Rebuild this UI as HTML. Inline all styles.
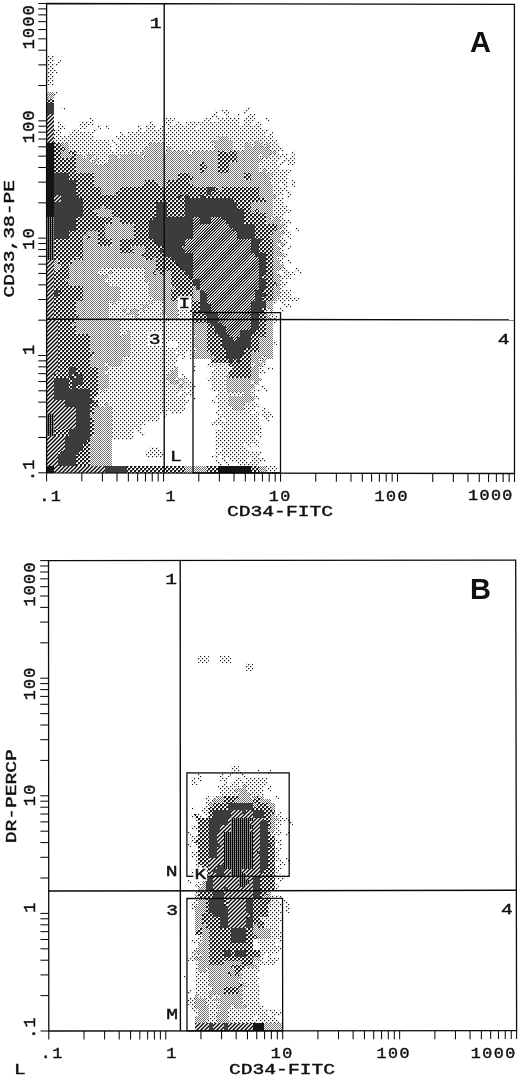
<!DOCTYPE html>
<html><head><meta charset="utf-8"><title>Figure</title><style>html,body{margin:0;padding:0;background:#fff}svg{display:block}</style></head><body>
<svg width="520" height="1076" viewBox="0 0 520 1076">
<defs><pattern id="p1" patternUnits="userSpaceOnUse" width="4" height="4" shape-rendering="crispEdges"><rect width="4" height="4" fill="#fff"/><path d="M0 0h1v1h-1zM2 2h1v1h-1z" fill="#1a1a1a"/><path d="M1 0h1v1h-1zM0 1h1v1h-1zM3 2h1v1h-1zM2 3h1v1h-1z" fill="#cccccc"/></pattern><pattern id="p2" patternUnits="userSpaceOnUse" width="2" height="2" shape-rendering="crispEdges"><rect width="2" height="2" fill="#fff"/><path d="M0 0h1v1h-1zM1 1h1v1h-1z" fill="#737373"/></pattern><pattern id="p3" patternUnits="userSpaceOnUse" width="4" height="4" shape-rendering="crispEdges"><rect width="4" height="4" fill="#fff"/><path d="M0 0h2v1h-2zM0 1h2v1h-2zM2 2h2v1h-2zM2 3h2v1h-2z" fill="#1a1a1a"/><path d="M2 0h1v1h-1zM0 2h1v1h-1z" fill="#999999"/></pattern><pattern id="p5" patternUnits="userSpaceOnUse" width="20" height="20" shape-rendering="crispEdges"><rect width="20" height="20" fill="#fff"/><path d="M4 0h1v1h-1zM7 0h1v1h-1zM10 0h1v1h-1zM13 0h1v1h-1zM16 0h1v1h-1zM3 1h1v1h-1zM6 1h1v1h-1zM9 1h1v1h-1zM12 1h1v1h-1zM15 1h1v1h-1zM2 2h1v1h-1zM5 2h1v1h-1zM8 2h1v1h-1zM11 2h1v1h-1zM14 2h1v1h-1zM1 3h1v1h-1zM4 3h1v1h-1zM7 3h1v1h-1zM10 3h1v1h-1zM13 3h1v1h-1zM0 4h1v1h-1zM3 4h1v1h-1zM6 4h1v1h-1zM9 4h1v1h-1zM12 4h1v1h-1zM2 5h1v1h-1zM5 5h1v1h-1zM8 5h1v1h-1zM11 5h1v1h-1zM19 5h1v1h-1zM1 6h1v1h-1zM4 6h1v1h-1zM7 6h1v1h-1zM10 6h1v1h-1zM18 6h1v1h-1zM0 7h1v1h-1zM3 7h1v1h-1zM6 7h1v1h-1zM9 7h1v1h-1zM17 7h1v1h-1zM2 8h1v1h-1zM5 8h1v1h-1zM8 8h1v1h-1zM16 8h1v1h-1zM19 8h1v1h-1zM1 9h1v1h-1zM4 9h1v1h-1zM7 9h1v1h-1zM15 9h1v1h-1zM18 9h1v1h-1zM0 10h1v1h-1zM3 10h1v1h-1zM6 10h1v1h-1zM14 10h1v1h-1zM17 10h1v1h-1zM2 11h1v1h-1zM5 11h1v1h-1zM13 11h1v1h-1zM16 11h1v1h-1zM19 11h1v1h-1zM1 12h1v1h-1zM4 12h1v1h-1zM12 12h1v1h-1zM15 12h1v1h-1zM18 12h1v1h-1zM0 13h1v1h-1zM3 13h1v1h-1zM11 13h1v1h-1zM14 13h1v1h-1zM17 13h1v1h-1zM2 14h1v1h-1zM10 14h1v1h-1zM13 14h1v1h-1zM16 14h1v1h-1zM19 14h1v1h-1zM1 15h1v1h-1zM9 15h1v1h-1zM12 15h1v1h-1zM15 15h1v1h-1zM18 15h1v1h-1zM0 16h1v1h-1zM8 16h1v1h-1zM11 16h1v1h-1zM14 16h1v1h-1zM17 16h1v1h-1zM7 17h1v1h-1zM10 17h1v1h-1zM13 17h1v1h-1zM16 17h1v1h-1zM19 17h1v1h-1zM6 18h1v1h-1zM9 18h1v1h-1zM12 18h1v1h-1zM15 18h1v1h-1zM18 18h1v1h-1zM5 19h1v1h-1zM8 19h1v1h-1zM11 19h1v1h-1zM14 19h1v1h-1zM17 19h1v1h-1z" fill="#000000"/><path d="M1 0h1v1h-1zM19 0h1v1h-1zM0 1h1v1h-1zM18 1h1v1h-1zM17 2h1v1h-1zM19 2h1v1h-1zM16 3h1v1h-1zM18 3h1v1h-1zM15 4h1v1h-1zM17 4h1v1h-1zM14 5h1v1h-1zM16 5h1v1h-1zM13 6h1v1h-1zM15 6h1v1h-1zM12 7h1v1h-1zM14 7h1v1h-1zM11 8h1v1h-1zM13 8h1v1h-1zM10 9h1v1h-1zM12 9h1v1h-1zM9 10h1v1h-1zM11 10h1v1h-1zM8 11h1v1h-1zM10 11h1v1h-1zM7 12h1v1h-1zM9 12h1v1h-1zM6 13h1v1h-1zM8 13h1v1h-1zM5 14h1v1h-1zM7 14h1v1h-1zM4 15h1v1h-1zM6 15h1v1h-1zM3 16h1v1h-1zM5 16h1v1h-1zM2 17h1v1h-1zM4 17h1v1h-1zM1 18h1v1h-1zM3 18h1v1h-1zM0 19h1v1h-1zM2 19h1v1h-1z" fill="#1a1a1a"/><path d="M2 0h1v1h-1zM18 0h1v1h-1zM1 1h1v1h-1zM17 1h1v1h-1zM0 2h1v1h-1zM16 2h1v1h-1zM15 3h1v1h-1zM19 3h1v1h-1zM14 4h1v1h-1zM18 4h1v1h-1zM13 5h1v1h-1zM17 5h1v1h-1zM12 6h1v1h-1zM16 6h1v1h-1zM11 7h1v1h-1zM15 7h1v1h-1zM10 8h1v1h-1zM14 8h1v1h-1zM9 9h1v1h-1zM13 9h1v1h-1zM8 10h1v1h-1zM12 10h1v1h-1zM7 11h1v1h-1zM11 11h1v1h-1zM6 12h1v1h-1zM10 12h1v1h-1zM5 13h1v1h-1zM9 13h1v1h-1zM4 14h1v1h-1zM8 14h1v1h-1zM3 15h1v1h-1zM7 15h1v1h-1zM2 16h1v1h-1zM6 16h1v1h-1zM1 17h1v1h-1zM5 17h1v1h-1zM0 18h1v1h-1zM4 18h1v1h-1zM3 19h1v1h-1zM19 19h1v1h-1z" fill="#4c4c4c"/><path d="M5 0h1v1h-1zM15 0h1v1h-1zM4 1h1v1h-1zM14 1h1v1h-1zM3 2h1v1h-1zM13 2h1v1h-1zM2 3h1v1h-1zM12 3h1v1h-1zM1 4h1v1h-1zM11 4h1v1h-1zM0 5h1v1h-1zM10 5h1v1h-1zM9 6h1v1h-1zM19 6h1v1h-1zM8 7h1v1h-1zM18 7h1v1h-1zM7 8h1v1h-1zM17 8h1v1h-1zM6 9h1v1h-1zM16 9h1v1h-1zM5 10h1v1h-1zM15 10h1v1h-1zM4 11h1v1h-1zM14 11h1v1h-1zM3 12h1v1h-1zM13 12h1v1h-1zM2 13h1v1h-1zM12 13h1v1h-1zM1 14h1v1h-1zM11 14h1v1h-1zM0 15h1v1h-1zM10 15h1v1h-1zM9 16h1v1h-1zM19 16h1v1h-1zM8 17h1v1h-1zM18 17h1v1h-1zM7 18h1v1h-1zM17 18h1v1h-1zM6 19h1v1h-1zM16 19h1v1h-1z" fill="#808080"/><path d="M8 0h1v1h-1zM12 0h1v1h-1zM7 1h1v1h-1zM11 1h1v1h-1zM6 2h1v1h-1zM10 2h1v1h-1zM5 3h1v1h-1zM9 3h1v1h-1zM4 4h1v1h-1zM8 4h1v1h-1zM3 5h1v1h-1zM7 5h1v1h-1zM2 6h1v1h-1zM6 6h1v1h-1zM1 7h1v1h-1zM5 7h1v1h-1zM0 8h1v1h-1zM4 8h1v1h-1zM3 9h1v1h-1zM19 9h1v1h-1zM2 10h1v1h-1zM18 10h1v1h-1zM1 11h1v1h-1zM17 11h1v1h-1zM0 12h1v1h-1zM16 12h1v1h-1zM15 13h1v1h-1zM19 13h1v1h-1zM14 14h1v1h-1zM18 14h1v1h-1zM13 15h1v1h-1zM17 15h1v1h-1zM12 16h1v1h-1zM16 16h1v1h-1zM11 17h1v1h-1zM15 17h1v1h-1zM10 18h1v1h-1zM14 18h1v1h-1zM9 19h1v1h-1zM13 19h1v1h-1z" fill="#b2b2b2"/><path d="M9 0h1v1h-1zM11 0h1v1h-1zM8 1h1v1h-1zM10 1h1v1h-1zM7 2h1v1h-1zM9 2h1v1h-1zM6 3h1v1h-1zM8 3h1v1h-1zM5 4h1v1h-1zM7 4h1v1h-1zM4 5h1v1h-1zM6 5h1v1h-1zM3 6h1v1h-1zM5 6h1v1h-1zM2 7h1v1h-1zM4 7h1v1h-1zM1 8h1v1h-1zM3 8h1v1h-1zM0 9h1v1h-1zM2 9h1v1h-1zM1 10h1v1h-1zM19 10h1v1h-1zM0 11h1v1h-1zM18 11h1v1h-1zM17 12h1v1h-1zM19 12h1v1h-1zM16 13h1v1h-1zM18 13h1v1h-1zM15 14h1v1h-1zM17 14h1v1h-1zM14 15h1v1h-1zM16 15h1v1h-1zM13 16h1v1h-1zM15 16h1v1h-1zM12 17h1v1h-1zM14 17h1v1h-1zM11 18h1v1h-1zM13 18h1v1h-1zM10 19h1v1h-1zM12 19h1v1h-1z" fill="#e6e6e6"/></pattern><pattern id="p6" patternUnits="userSpaceOnUse" width="2" height="2" shape-rendering="crispEdges"><rect width="2" height="2" fill="#fff"/><path d="M0 0h1v1h-1zM0 1h1v1h-1z" fill="#000000"/><path d="M1 0h1v1h-1z" fill="#666666"/><path d="M1 1h1v1h-1z" fill="#999999"/></pattern><pattern id="p7" patternUnits="userSpaceOnUse" width="4" height="4" shape-rendering="crispEdges"><rect width="4" height="4" fill="#fff"/><path d="M2 0h1v1h-1zM1 1h1v1h-1zM0 2h1v1h-1zM3 3h1v1h-1z" fill="#000000"/><path d="M1 0h1v1h-1zM3 0h1v1h-1zM0 1h1v1h-1zM2 1h1v1h-1zM1 2h1v1h-1zM3 2h1v1h-1zM0 3h1v1h-1zM2 3h1v1h-1z" fill="#808080"/></pattern></defs>
<g shape-rendering="crispEdges"><path d="M47 55h7v4h-7zM47 59h7v4h-7zM58 59h3v4h-3zM47 63h11v3h-11zM47 66h7v4h-7zM47 70h11v4h-11zM47 74h7v3h-7zM47 77h7v4h-7zM47 81h7v4h-7zM54 92h4v4h-4zM61 107h4v3h-4zM248 107h3v3h-3zM215 110h3v4h-3zM222 110h7v4h-7zM244 110h4v4h-4zM211 114h7v4h-7zM226 114h3v4h-3zM237 114h3v4h-3zM248 114h7v4h-7zM90 118h4v3h-4zM164 118h11v3h-11zM204 118h7v3h-7zM218 118h22v3h-22zM244 118h11v3h-11zM266 118h4v3h-4zM58 121h3v4h-3zM79 121h15v4h-15zM149 121h4v4h-4zM164 121h7v4h-7zM175 121h7v4h-7zM185 121h55v4h-55zM244 121h7v4h-7zM255 121h7v4h-7zM58 125h7v4h-7zM79 125h8v4h-8zM98 125h3v4h-3zM105 125h4v4h-4zM138 125h4v4h-4zM145 125h11v4h-11zM160 125h4v4h-4zM167 125h29v4h-29zM200 125h62v4h-62zM54 129h7v3h-7zM72 129h7v3h-7zM87 129h3v3h-3zM94 129h4v3h-4zM138 129h4v3h-4zM145 129h19v3h-19zM167 129h103v3h-103zM54 132h7v4h-7zM69 132h25v4h-25zM120 132h3v4h-3zM127 132h139v4h-139zM270 132h3v4h-3zM54 136h40v4h-40zM116 136h102v4h-102zM229 136h44v4h-44zM54 140h55v3h-55zM112 140h4v3h-4zM120 140h91v3h-91zM233 140h22v3h-22zM259 140h18v3h-18zM69 143h43v4h-43zM116 143h33v4h-33zM164 143h51v4h-51zM233 143h11v4h-11zM251 143h4v4h-4zM262 143h4v4h-4zM270 143h10v4h-10zM69 147h43v4h-43zM116 147h29v4h-29zM164 147h3v4h-3zM171 147h44v4h-44zM233 147h11v4h-11zM270 147h14v4h-14zM76 151h55v3h-55zM134 151h8v3h-8zM164 151h3v3h-3zM189 151h4v3h-4zM277 151h3v3h-3zM291 151h4v3h-4zM83 154h4v4h-4zM94 154h15v4h-15zM116 154h4v4h-4zM142 154h3v4h-3zM259 154h3v4h-3zM270 154h18v4h-18zM291 154h4v4h-4zM90 158h4v4h-4zM98 158h11v4h-11zM262 158h18v4h-18zM284 158h11v4h-11zM94 162h11v3h-11zM259 162h18v3h-18zM280 162h4v3h-4zM288 162h7v3h-7zM259 165h21v4h-21zM259 169h3v4h-3zM266 169h25v4h-25zM273 173h15v3h-15zM270 176h18v4h-18zM270 180h18v4h-18zM291 180h4v4h-4zM273 184h7v3h-7zM284 184h4v3h-4zM291 184h4v3h-4zM273 187h15v4h-15zM273 191h11v4h-11zM288 191h3v4h-3zM277 195h3v3h-3zM288 195h3v3h-3zM273 198h11v4h-11zM273 202h11v4h-11zM273 206h15v3h-15zM273 209h18v4h-18zM273 213h11v4h-11zM270 217h3v3h-3zM280 217h4v3h-4zM280 220h11v4h-11zM284 224h4v4h-4zM280 228h8v3h-8zM295 228h4v3h-4zM284 231h7v4h-7zM280 235h4v4h-4zM288 235h3v4h-3zM280 239h8v3h-8zM277 242h3v4h-3zM284 242h4v4h-4zM280 246h4v3h-4zM288 246h3v3h-3zM280 249h4v4h-4zM284 253h4v4h-4zM277 257h7v3h-7zM280 260h4v4h-4zM288 260h3v4h-3zM101 268h44v3h-44zM280 268h8v3h-8zM295 268h4v3h-4zM98 271h11v4h-11zM112 271h33v4h-33zM277 271h3v4h-3zM284 271h11v4h-11zM299 271h3v4h-3zM109 275h36v4h-36zM280 275h11v4h-11zM105 279h40v3h-40zM280 279h4v3h-4zM109 282h40v4h-40zM280 282h8v4h-8zM120 286h29v4h-29zM280 286h4v4h-4zM120 290h29v3h-29zM280 290h11v3h-11zM120 293h29v4h-29zM280 293h11v4h-11zM120 297h33v4h-33zM277 297h22v4h-22zM109 301h3v3h-3zM116 301h33v3h-33zM153 301h11v3h-11zM178 301h4v3h-4zM185 301h4v3h-4zM273 301h4v3h-4zM280 301h4v3h-4zM109 304h33v4h-33zM149 304h15v4h-15zM178 304h11v4h-11zM284 304h7v4h-7zM109 308h14v4h-14zM127 308h4v4h-4zM138 308h4v4h-4zM145 308h19v4h-19zM178 308h11v4h-11zM266 308h4v4h-4zM280 308h4v4h-4zM109 312h18v3h-18zM138 312h22v3h-22zM178 312h15v3h-15zM266 312h4v3h-4zM109 315h25v4h-25zM138 315h29v4h-29zM178 315h15v4h-15zM270 315h7v4h-7zM120 319h44v4h-44zM167 319h26v4h-26zM273 319h4v4h-4zM120 323h73v3h-73zM120 326h73v4h-73zM120 330h7v4h-7zM131 330h62v4h-62zM120 334h3v3h-3zM131 334h65v3h-65zM131 337h62v4h-62zM131 341h36v4h-36zM178 341h15v4h-15zM273 341h4v4h-4zM131 345h36v3h-36zM178 345h15v3h-15zM131 348h65v4h-65zM131 352h44v4h-44zM178 352h7v4h-7zM189 352h4v4h-4zM123 356h55v3h-55zM182 356h3v3h-3zM189 356h4v3h-4zM262 356h4v3h-4zM123 359h55v4h-55zM259 359h3v4h-3zM105 363h4v4h-4zM120 363h55v4h-55zM193 363h3v4h-3zM207 363h22v4h-22zM251 363h4v4h-4zM262 363h4v4h-4zM109 367h66v3h-66zM193 367h3v3h-3zM215 367h18v3h-18zM259 367h3v3h-3zM266 367h7v3h-7zM105 370h66v4h-66zM193 370h3v4h-3zM211 370h18v4h-18zM259 370h7v4h-7zM109 374h58v4h-58zM182 374h3v4h-3zM211 374h15v4h-15zM109 378h58v3h-58zM175 378h3v3h-3zM185 378h4v3h-4zM207 378h19v3h-19zM109 381h62v4h-62zM178 381h4v4h-4zM185 381h8v4h-8zM211 381h15v4h-15zM251 381h4v4h-4zM109 385h69v4h-69zM182 385h14v4h-14zM211 385h15v4h-15zM262 385h4v4h-4zM98 389h3v3h-3zM105 389h80v3h-80zM189 389h4v3h-4zM211 389h15v3h-15zM251 389h11v3h-11zM266 389h4v3h-4zM98 392h80v4h-80zM182 392h11v4h-11zM218 392h26v4h-26zM251 392h4v4h-4zM94 396h91v4h-91zM193 396h3v4h-3zM215 396h14v4h-14zM255 396h4v4h-4zM98 400h91v3h-91zM211 400h4v3h-4zM218 400h11v3h-11zM251 400h4v3h-4zM98 403h7v4h-7zM109 403h76v4h-76zM218 403h11v4h-11zM244 403h15v4h-15zM112 407h73v4h-73zM218 407h15v4h-15zM244 407h11v4h-11zM262 407h4v4h-4zM112 411h55v3h-55zM171 411h11v3h-11zM215 411h3v3h-3zM222 411h29v3h-29zM255 411h4v3h-4zM262 411h8v3h-8zM112 414h48v4h-48zM164 414h3v4h-3zM218 414h41v4h-41zM262 414h11v4h-11zM112 418h48v4h-48zM215 418h7v4h-7zM226 418h33v4h-33zM266 418h4v4h-4zM112 422h33v3h-33zM211 422h48v3h-48zM112 425h30v4h-30zM222 425h40v4h-40zM112 429h22v4h-22zM138 429h4v4h-4zM215 429h47v4h-47zM112 433h19v3h-19zM142 433h3v3h-3zM215 433h44v3h-44zM112 436h22v4h-22zM215 436h40v4h-40zM259 436h3v4h-3zM215 440h44v4h-44zM215 444h29v3h-29zM248 444h3v3h-3zM255 444h4v3h-4zM149 447h11v4h-11zM215 447h3v4h-3zM222 447h26v4h-26zM145 451h19v4h-19zM215 451h47v4h-47zM145 455h19v3h-19zM211 455h7v3h-7zM222 455h37v3h-37zM215 458h3v4h-3zM222 458h4v4h-4zM229 458h19v4h-19zM251 458h15v4h-15zM218 462h4v4h-4zM226 462h3v4h-3zM237 462h22v4h-22zM266 466h11v3h-11zM266 469h11v4h-11z" fill="url(#p1)"/>
<path d="M47 92h7v4h-7zM47 96h7v3h-7zM218 136h11v4h-11zM211 140h22v3h-22zM255 140h4v3h-4zM61 143h8v4h-8zM149 143h15v4h-15zM215 143h18v4h-18zM244 143h7v4h-7zM255 143h7v4h-7zM266 143h4v4h-4zM65 147h4v4h-4zM145 147h19v4h-19zM167 147h4v4h-4zM215 147h18v4h-18zM244 147h26v4h-26zM61 151h8v3h-8zM131 151h3v3h-3zM142 151h22v3h-22zM167 151h22v3h-22zM193 151h25v3h-25zM226 151h3v3h-3zM237 151h40v3h-40zM61 154h11v4h-11zM76 154h7v4h-7zM87 154h7v4h-7zM109 154h7v4h-7zM120 154h22v4h-22zM145 154h73v4h-73zM237 154h22v4h-22zM262 154h8v4h-8zM76 158h14v4h-14zM94 158h4v4h-4zM109 158h109v4h-109zM237 158h25v4h-25zM76 162h18v3h-18zM105 162h95v3h-95zM204 162h14v3h-14zM229 162h30v3h-30zM76 165h124v4h-124zM207 165h11v4h-11zM229 165h30v4h-30zM76 169h124v4h-124zM204 169h14v4h-14zM229 169h30v4h-30zM262 169h4v4h-4zM94 173h84v3h-84zM189 173h55v3h-55zM251 173h22v3h-22zM94 176h84v4h-84zM193 176h51v4h-51zM251 176h19v4h-19zM94 180h51v4h-51zM156 180h11v4h-11zM189 180h81v4h-81zM94 184h48v3h-48zM160 184h7v3h-7zM193 184h80v3h-80zM101 187h19v4h-19zM218 187h4v4h-4zM259 187h14v4h-14zM101 191h15v4h-15zM259 191h14v4h-14zM259 195h18v3h-18zM266 198h7v4h-7zM251 202h22v4h-22zM101 206h4v3h-4zM251 206h22v3h-22zM94 209h18v4h-18zM251 209h4v4h-4zM259 209h14v4h-14zM98 213h14v4h-14zM266 213h7v4h-7zM112 217h8v3h-8zM266 217h4v3h-4zM273 217h7v3h-7zM112 220h8v4h-8zM266 220h14v4h-14zM105 224h29v4h-29zM277 224h7v4h-7zM105 228h29v3h-29zM277 228h3v3h-3zM87 231h11v4h-11zM105 231h29v4h-29zM273 231h11v4h-11zM83 235h4v4h-4zM90 235h8v4h-8zM105 235h29v4h-29zM270 235h10v4h-10zM83 239h15v3h-15zM112 239h8v3h-8zM273 239h7v3h-7zM83 242h15v4h-15zM112 242h8v4h-8zM273 242h4v4h-4zM280 242h4v4h-4zM83 246h37v3h-37zM131 246h14v3h-14zM273 246h7v3h-7zM83 249h37v4h-37zM134 249h11v4h-11zM273 249h7v4h-7zM83 253h59v4h-59zM273 253h11v4h-11zM76 257h3v3h-3zM83 257h62v3h-62zM153 257h3v3h-3zM273 257h4v3h-4zM54 260h4v4h-4zM72 260h84v4h-84zM273 260h7v4h-7zM54 264h7v4h-7zM69 264h87v4h-87zM273 264h11v4h-11zM54 268h4v3h-4zM69 268h32v3h-32zM145 268h11v3h-11zM273 268h7v3h-7zM69 271h29v4h-29zM109 271h3v4h-3zM145 271h8v4h-8zM156 271h4v4h-4zM164 271h7v4h-7zM273 271h4v4h-4zM69 275h40v4h-40zM145 275h26v4h-26zM273 275h7v4h-7zM65 279h40v3h-40zM145 279h26v3h-26zM273 279h7v3h-7zM69 282h40v4h-40zM149 282h22v4h-22zM277 282h3v4h-3zM83 286h37v4h-37zM149 286h26v4h-26zM193 286h3v4h-3zM273 286h7v4h-7zM83 290h37v3h-37zM149 290h22v3h-22zM193 290h7v3h-7zM273 290h7v3h-7zM83 293h37v4h-37zM149 293h22v4h-22zM193 293h7v4h-7zM273 293h7v4h-7zM83 297h37v4h-37zM153 297h18v4h-18zM193 297h7v4h-7zM273 297h4v4h-4zM76 301h33v3h-33zM112 301h4v3h-4zM149 301h4v3h-4zM164 301h14v3h-14zM266 301h7v3h-7zM76 304h33v4h-33zM142 304h7v4h-7zM164 304h14v4h-14zM266 304h7v4h-7zM76 308h33v4h-33zM123 308h4v4h-4zM131 308h7v4h-7zM142 308h3v4h-3zM164 308h14v4h-14zM270 308h3v4h-3zM76 312h33v3h-33zM127 312h11v3h-11zM160 312h18v3h-18zM270 312h3v3h-3zM79 315h30v4h-30zM134 315h4v4h-4zM167 315h11v4h-11zM266 315h4v4h-4zM76 319h44v4h-44zM164 319h3v4h-3zM266 319h7v4h-7zM72 323h48v3h-48zM193 323h14v3h-14zM266 323h7v3h-7zM76 326h44v4h-44zM193 326h14v4h-14zM266 326h7v4h-7zM76 330h44v4h-44zM127 330h4v4h-4zM193 330h14v4h-14zM266 330h7v4h-7zM90 334h30v3h-30zM123 334h8v3h-8zM196 334h11v3h-11zM266 334h7v3h-7zM90 337h41v4h-41zM193 337h14v4h-14zM259 337h14v4h-14zM90 341h41v4h-41zM193 341h14v4h-14zM259 341h14v4h-14zM90 345h41v3h-41zM193 345h14v3h-14zM259 345h14v3h-14zM90 348h41v4h-41zM196 348h11v4h-11zM259 348h14v4h-14zM94 352h37v4h-37zM193 352h18v4h-18zM251 352h22v4h-22zM90 356h33v3h-33zM193 356h22v3h-22zM251 356h11v3h-11zM266 356h7v3h-7zM90 359h33v4h-33zM251 359h8v4h-8zM262 359h4v4h-4zM90 363h15v4h-15zM109 363h11v4h-11zM255 363h7v4h-7zM98 367h11v3h-11zM175 367h3v3h-3zM251 367h8v3h-8zM98 370h7v4h-7zM171 370h7v4h-7zM251 370h8v4h-8zM98 374h11v4h-11zM167 374h11v4h-11zM226 374h3v4h-3zM251 374h8v4h-8zM98 378h11v3h-11zM167 378h8v3h-8zM178 378h7v3h-7zM226 378h36v3h-36zM98 381h11v4h-11zM171 381h7v4h-7zM182 381h3v4h-3zM226 381h25v4h-25zM255 381h4v4h-4zM98 385h11v4h-11zM178 385h4v4h-4zM226 385h29v4h-29zM101 389h4v3h-4zM226 389h25v3h-25zM244 392h7v4h-7zM229 396h26v4h-26zM229 400h22v3h-22zM105 403h4v4h-4zM229 403h15v4h-15zM94 407h18v4h-18zM233 407h11v4h-11zM94 411h18v3h-18zM90 414h22v4h-22zM94 418h18v4h-18zM94 422h18v3h-18zM94 425h18v4h-18zM94 429h18v4h-18zM94 433h18v3h-18zM90 436h22v4h-22zM90 440h22v4h-22zM90 444h22v3h-22zM90 447h22v4h-22zM90 451h22v4h-22zM90 455h22v3h-22zM90 458h22v4h-22zM90 462h22v4h-22zM185 466h22v3h-22zM259 466h7v3h-7zM185 469h22v4h-22zM259 469h7v4h-7z" fill="url(#p2)"/>
<path d="M47 99h7v4h-7zM54 143h7v4h-7zM54 147h11v4h-11zM54 151h7v3h-7zM69 151h7v3h-7zM218 151h8v3h-8zM229 151h8v3h-8zM54 154h7v4h-7zM72 154h4v4h-4zM218 154h19v4h-19zM54 158h22v4h-22zM218 158h19v4h-19zM54 162h22v3h-22zM200 162h4v3h-4zM218 162h11v3h-11zM54 165h22v4h-22zM200 165h7v4h-7zM218 165h11v4h-11zM54 169h22v4h-22zM200 169h4v4h-4zM218 169h11v4h-11zM69 173h25v3h-25zM178 173h11v3h-11zM244 173h7v3h-7zM69 176h25v4h-25zM178 176h15v4h-15zM244 176h7v4h-7zM76 180h18v4h-18zM145 180h11v4h-11zM167 180h22v4h-22zM76 184h18v3h-18zM142 184h18v3h-18zM167 184h26v3h-26zM76 187h25v4h-25zM120 187h87v4h-87zM215 187h3v4h-3zM222 187h37v4h-37zM76 191h25v4h-25zM116 191h91v4h-91zM211 191h48v4h-48zM79 195h99v3h-99zM182 195h3v3h-3zM189 195h11v3h-11zM204 195h55v3h-55zM83 198h102v4h-102zM233 198h33v4h-33zM83 202h73v4h-73zM167 202h18v4h-18zM237 202h14v4h-14zM83 206h18v3h-18zM105 206h51v3h-51zM167 206h18v3h-18zM237 206h14v3h-14zM83 209h11v4h-11zM112 209h44v4h-44zM167 209h18v4h-18zM244 209h7v4h-7zM255 209h4v4h-4zM83 213h15v4h-15zM112 213h44v4h-44zM167 213h18v4h-18zM244 213h22v4h-22zM76 217h36v3h-36zM120 217h33v3h-33zM244 217h22v3h-22zM76 220h36v4h-36zM120 220h29v4h-29zM244 220h22v4h-22zM76 224h29v4h-29zM134 224h15v4h-15zM255 224h22v4h-22zM76 228h29v3h-29zM134 228h15v3h-15zM255 228h22v3h-22zM69 231h18v4h-18zM98 231h7v4h-7zM134 231h15v4h-15zM255 231h18v4h-18zM69 235h14v4h-14zM87 235h3v4h-3zM98 235h7v4h-7zM134 235h15v4h-15zM255 235h15v4h-15zM54 239h29v3h-29zM98 239h14v3h-14zM120 239h33v3h-33zM262 239h11v3h-11zM54 242h29v4h-29zM98 242h14v4h-14zM120 242h36v4h-36zM259 242h14v4h-14zM54 246h29v3h-29zM120 246h11v3h-11zM145 246h19v3h-19zM259 246h14v3h-14zM54 249h29v4h-29zM120 249h14v4h-14zM145 249h15v4h-15zM259 249h14v4h-14zM54 253h29v4h-29zM142 253h22v4h-22zM266 253h7v4h-7zM54 257h22v3h-22zM79 257h4v3h-4zM145 257h8v3h-8zM156 257h15v3h-15zM266 257h7v3h-7zM58 260h14v4h-14zM156 260h19v4h-19zM266 260h7v4h-7zM61 264h8v4h-8zM156 264h22v4h-22zM266 264h7v4h-7zM58 268h11v3h-11zM156 268h26v3h-26zM266 268h7v3h-7zM54 271h15v4h-15zM153 271h3v4h-3zM160 271h4v4h-4zM171 271h14v4h-14zM266 271h7v4h-7zM54 275h15v4h-15zM171 275h18v4h-18zM262 275h11v4h-11zM54 279h11v3h-11zM171 279h22v3h-22zM266 279h7v3h-7zM54 282h15v4h-15zM171 282h22v4h-22zM266 282h11v4h-11zM54 286h29v4h-29zM175 286h18v4h-18zM266 286h7v4h-7zM61 290h22v3h-22zM171 290h22v3h-22zM262 290h11v3h-11zM58 293h25v4h-25zM171 293h22v4h-22zM266 293h7v4h-7zM54 297h29v4h-29zM171 297h22v4h-22zM262 297h11v4h-11zM54 301h22v3h-22zM182 301h3v3h-3zM189 301h11v3h-11zM54 304h22v4h-22zM189 304h11v4h-11zM54 308h22v4h-22zM189 308h11v4h-11zM262 308h4v4h-4zM54 312h22v3h-22zM193 312h11v3h-11zM259 312h7v3h-7zM54 315h25v4h-25zM193 315h14v4h-14zM259 315h7v4h-7zM58 319h18v4h-18zM193 319h14v4h-14zM259 319h7v4h-7zM58 323h14v3h-14zM207 323h4v3h-4zM259 323h7v3h-7zM58 326h18v4h-18zM207 326h8v4h-8zM259 326h7v4h-7zM58 330h18v4h-18zM207 330h8v4h-8zM255 330h11v4h-11zM58 334h32v3h-32zM207 334h11v3h-11zM251 334h15v3h-15zM58 337h32v4h-32zM207 337h15v4h-15zM251 337h8v4h-8zM58 341h32v4h-32zM207 341h15v4h-15zM251 341h8v4h-8zM58 345h32v3h-32zM207 345h15v3h-15zM251 345h8v3h-8zM58 348h32v4h-32zM207 348h19v4h-19zM244 348h15v4h-15zM58 352h36v4h-36zM211 352h15v4h-15zM244 352h7v4h-7zM58 356h32v3h-32zM215 356h11v3h-11zM240 356h11v3h-11zM58 359h32v4h-32zM211 359h18v4h-18zM233 359h4v4h-4zM240 359h11v4h-11zM58 363h32v4h-32zM229 363h22v4h-22zM58 367h11v3h-11zM76 367h22v3h-22zM233 367h18v3h-18zM58 370h11v4h-11zM76 370h22v4h-22zM229 370h22v4h-22zM54 374h15v4h-15zM72 374h4v4h-4zM83 374h15v4h-15zM229 374h22v4h-22zM69 378h3v3h-3zM83 378h15v3h-15zM69 381h3v4h-3zM83 381h15v4h-15zM69 385h3v4h-3zM76 385h22v4h-22zM90 389h8v3h-8zM90 392h8v4h-8zM90 396h4v4h-4zM94 400h4v3h-4zM90 403h8v4h-8zM90 407h4v4h-4zM90 411h4v3h-4zM90 418h4v4h-4zM90 422h4v3h-4zM90 425h4v4h-4zM54 429h15v4h-15zM90 429h4v4h-4zM54 433h15v3h-15zM90 433h4v3h-4zM87 440h3v4h-3zM83 444h7v3h-7zM83 447h7v4h-7zM58 451h3v4h-3zM79 451h11v4h-11zM76 455h14v3h-14zM76 458h14v4h-14zM76 462h14v4h-14zM127 466h58v3h-58zM207 466h11v3h-11zM251 466h8v3h-8zM127 469h58v4h-58zM207 469h11v4h-11zM251 469h8v4h-8z" fill="url(#p3)"/>
<path d="M47 103h7v4h-7zM47 107h7v3h-7zM47 110h7v4h-7zM54 173h15v3h-15zM54 176h15v4h-15zM54 180h22v4h-22zM54 184h22v3h-22zM54 187h22v4h-22zM207 187h8v4h-8zM54 191h22v4h-22zM207 191h4v4h-4zM61 195h18v3h-18zM178 195h4v3h-4zM185 195h4v3h-4zM200 195h4v3h-4zM61 198h22v4h-22zM185 198h48v4h-48zM54 202h29v4h-29zM156 202h11v4h-11zM185 202h52v4h-52zM54 206h29v3h-29zM156 206h11v3h-11zM185 206h52v3h-52zM54 209h29v4h-29zM156 209h11v4h-11zM185 209h59v4h-59zM54 213h29v4h-29zM156 213h11v4h-11zM185 213h59v4h-59zM54 217h22v3h-22zM153 217h40v3h-40zM200 217h11v3h-11zM222 217h22v3h-22zM54 220h22v4h-22zM149 220h44v4h-44zM200 220h11v4h-11zM226 220h18v4h-18zM54 224h22v4h-22zM149 224h44v4h-44zM229 224h26v4h-26zM54 228h22v3h-22zM149 228h44v3h-44zM233 228h22v3h-22zM54 231h15v4h-15zM149 231h44v4h-44zM237 231h18v4h-18zM54 235h15v4h-15zM149 235h44v4h-44zM237 235h18v4h-18zM153 239h32v3h-32zM251 239h11v3h-11zM156 242h29v4h-29zM251 242h8v4h-8zM164 246h18v3h-18zM251 246h8v3h-8zM160 249h25v4h-25zM251 249h8v4h-8zM164 253h29v4h-29zM255 253h11v4h-11zM171 257h22v3h-22zM259 257h7v3h-7zM175 260h18v4h-18zM259 260h7v4h-7zM178 264h15v4h-15zM259 264h7v4h-7zM182 268h11v3h-11zM259 268h7v3h-7zM185 271h8v4h-8zM259 271h7v4h-7zM189 275h4v4h-4zM259 275h3v4h-3zM193 279h7v3h-7zM259 279h7v3h-7zM193 282h7v4h-7zM259 282h7v4h-7zM196 286h4v4h-4zM259 286h7v4h-7zM54 290h7v3h-7zM200 290h4v3h-4zM255 290h7v3h-7zM54 293h4v4h-4zM200 293h7v4h-7zM255 293h11v4h-11zM200 297h7v4h-7zM255 297h7v4h-7zM200 301h7v3h-7zM251 301h15v3h-15zM200 304h11v4h-11zM251 304h15v4h-15zM200 308h11v4h-11zM251 308h11v4h-11zM204 312h14v3h-14zM251 312h8v3h-8zM207 315h11v4h-11zM251 315h8v4h-8zM207 319h11v4h-11zM251 319h8v4h-8zM211 323h11v3h-11zM251 323h8v3h-8zM215 326h11v4h-11zM251 326h8v4h-8zM215 330h11v4h-11zM240 330h15v4h-15zM218 334h11v3h-11zM240 334h11v3h-11zM222 337h11v4h-11zM237 337h14v4h-14zM222 341h29v4h-29zM222 345h29v3h-29zM226 348h18v4h-18zM226 352h18v4h-18zM226 356h14v3h-14zM229 359h4v4h-4zM237 359h3v4h-3zM69 367h7v3h-7zM69 370h7v4h-7zM69 374h3v4h-3zM76 374h7v4h-7zM54 378h15v3h-15zM72 378h11v3h-11zM54 381h15v4h-15zM72 381h11v4h-11zM54 385h15v4h-15zM72 385h4v4h-4zM54 389h36v3h-36zM54 392h36v4h-36zM54 396h36v4h-36zM65 400h29v3h-29zM65 403h25v4h-25zM76 407h14v4h-14zM76 411h14v3h-14zM76 414h14v4h-14zM76 418h14v4h-14zM76 422h14v3h-14zM76 425h14v4h-14zM69 429h21v4h-21zM69 433h21v3h-21zM65 436h25v4h-25zM65 440h22v4h-22zM65 444h18v3h-18zM65 447h18v4h-18zM61 451h18v4h-18zM58 455h18v3h-18zM58 458h18v4h-18zM58 462h18v4h-18zM105 466h22v3h-22zM105 469h22v4h-22z" fill="#3c3c3c"/>
<path d="M193 217h7v3h-7zM211 217h11v3h-11zM193 220h7v4h-7zM211 220h15v4h-15zM193 224h36v4h-36zM193 228h40v3h-40zM193 231h44v4h-44zM193 235h44v4h-44zM185 239h66v3h-66zM185 242h66v4h-66zM182 246h69v3h-69zM185 249h66v4h-66zM193 253h62v4h-62zM193 257h66v3h-66zM193 260h66v4h-66zM193 264h66v4h-66zM193 268h66v3h-66zM193 271h66v4h-66zM193 275h66v4h-66zM200 279h59v3h-59zM200 282h59v4h-59zM200 286h59v4h-59zM204 290h51v3h-51zM207 293h48v4h-48zM207 297h48v4h-48zM207 301h44v3h-44zM211 304h40v4h-40zM211 308h40v4h-40zM218 312h33v3h-33zM218 315h33v4h-33zM218 319h33v4h-33zM222 323h29v3h-29zM226 326h25v4h-25zM226 330h14v4h-14zM229 334h11v3h-11zM233 337h4v4h-4z" fill="url(#p5)"/>
<path d="M47 217h7v3h-7zM47 220h7v4h-7zM47 224h7v4h-7zM47 228h7v3h-7zM47 231h7v4h-7zM47 235h7v4h-7zM47 239h7v3h-7zM47 242h7v4h-7zM47 246h7v3h-7zM47 249h7v4h-7zM47 253h7v4h-7zM47 257h7v3h-7zM47 414h7v4h-7zM47 418h7v4h-7zM47 422h7v3h-7zM47 425h7v4h-7zM47 429h7v4h-7zM47 433h7v3h-7z" fill="url(#p6)"/>
<path d="M47 114h7v4h-7zM47 118h7v3h-7zM47 121h7v4h-7zM47 125h7v4h-7zM47 129h7v3h-7zM47 132h7v4h-7zM47 136h7v4h-7zM47 140h7v3h-7zM54 195h7v3h-7zM54 198h7v4h-7zM47 260h7v4h-7zM47 264h7v4h-7zM47 268h7v3h-7zM47 271h7v4h-7zM47 275h7v4h-7zM47 279h7v3h-7zM47 282h7v4h-7zM47 286h7v4h-7zM47 290h7v3h-7zM47 293h7v4h-7zM47 297h7v4h-7zM47 301h7v3h-7zM47 304h7v4h-7zM47 308h7v4h-7zM47 312h7v3h-7zM47 315h7v4h-7zM47 319h11v4h-11zM47 323h11v3h-11zM47 326h11v4h-11zM47 330h11v4h-11zM47 334h11v3h-11zM47 337h11v4h-11zM47 341h11v4h-11zM47 345h11v3h-11zM47 348h11v4h-11zM47 352h11v4h-11zM47 356h11v3h-11zM47 359h11v4h-11zM47 363h11v4h-11zM47 367h11v3h-11zM47 370h11v4h-11zM47 374h7v4h-7zM47 378h7v3h-7zM47 381h7v4h-7zM47 385h7v4h-7zM47 389h7v3h-7zM47 392h7v4h-7zM47 396h7v4h-7zM47 400h18v3h-18zM47 403h18v4h-18zM47 407h29v4h-29zM47 411h29v3h-29zM54 414h22v4h-22zM54 418h22v4h-22zM54 422h22v3h-22zM54 425h22v4h-22zM47 436h18v4h-18zM47 440h18v4h-18zM47 444h18v3h-18zM47 447h18v4h-18zM47 451h11v4h-11zM47 455h11v3h-11zM47 458h11v4h-11zM47 462h11v4h-11zM54 466h51v3h-51zM54 469h51v4h-51z" fill="url(#p7)"/>
<path d="M47 143h7v4h-7zM47 147h7v4h-7zM47 151h7v3h-7zM47 154h7v4h-7zM47 158h7v4h-7zM47 162h7v3h-7zM47 165h7v4h-7zM47 169h7v4h-7zM47 173h7v3h-7zM47 176h7v4h-7zM47 180h7v4h-7zM47 184h7v3h-7zM47 187h7v4h-7zM47 191h7v4h-7zM47 195h7v3h-7zM47 198h7v4h-7zM47 202h7v4h-7zM47 206h7v3h-7zM47 209h7v4h-7zM47 213h7v4h-7zM47 466h7v3h-7zM218 466h33v3h-33zM47 469h7v4h-7zM218 469h33v4h-33z" fill="#141414"/>
<path d="M198 656h11v4h-11zM220 656h11v4h-11zM198 660h11v3h-11zM220 660h11v3h-11zM246 663h7v4h-7zM246 667h7v4h-7zM231 766h8v4h-8zM231 770h11v4h-11zM257 770h3v4h-3zM268 770h3v4h-3zM198 774h4v3h-4zM220 774h4v3h-4zM228 774h3v3h-3zM242 774h4v3h-4zM191 777h4v4h-4zM198 777h4v4h-4zM220 777h8v4h-8zM235 777h7v4h-7zM246 777h22v4h-22zM191 781h7v4h-7zM224 781h4v4h-4zM231 781h8v4h-8zM242 781h26v4h-26zM217 785h25v3h-25zM246 785h18v3h-18zM268 785h3v3h-3zM220 788h15v4h-15zM246 788h18v4h-18zM268 788h3v4h-3zM220 792h19v4h-19zM250 792h14v4h-14zM206 796h3v3h-3zM213 796h4v3h-4zM250 796h3v3h-3zM275 796h4v3h-4zM206 799h7v4h-7zM206 803h3v4h-3zM191 807h4v3h-4zM202 807h7v3h-7zM202 810h7v4h-7zM279 810h3v4h-3zM191 814h4v4h-4zM198 814h4v4h-4zM206 814h3v4h-3zM275 814h7v4h-7zM195 818h3v3h-3zM279 818h11v3h-11zM275 821h7v4h-7zM290 821h3v4h-3zM191 825h7v4h-7zM275 825h4v4h-4zM195 829h3v3h-3zM275 829h7v3h-7zM187 832h4v4h-4zM271 832h11v4h-11zM286 832h4v4h-4zM191 836h7v4h-7zM191 840h4v3h-4zM275 840h7v3h-7zM187 843h4v4h-4zM195 843h3v4h-3zM279 843h3v4h-3zM275 847h7v4h-7zM191 851h7v3h-7zM275 851h4v3h-4zM191 854h7v4h-7zM275 854h4v4h-4zM195 858h3v4h-3zM275 858h7v4h-7zM286 858h4v4h-4zM195 862h3v3h-3zM279 862h7v3h-7zM195 865h7v4h-7zM275 865h7v4h-7zM191 869h7v4h-7zM275 869h4v4h-4zM191 873h11v3h-11zM279 873h3v3h-3zM195 876h3v4h-3zM275 876h11v4h-11zM187 880h4v4h-4zM195 880h7v4h-7zM279 880h3v4h-3zM198 884h4v3h-4zM275 884h4v3h-4zM275 887h4v4h-4zM195 891h3v4h-3zM271 895h11v3h-11zM195 898h3v4h-3zM271 898h8v4h-8zM282 898h4v4h-4zM191 902h7v4h-7zM271 902h11v4h-11zM286 902h4v4h-4zM191 906h4v4h-4zM268 906h11v4h-11zM286 906h4v4h-4zM268 910h14v3h-14zM286 910h4v3h-4zM268 913h11v4h-11zM260 917h22v4h-22zM264 921h15v3h-15zM264 924h15v4h-15zM271 928h8v4h-8zM271 932h11v3h-11zM198 935h4v4h-4zM271 935h11v4h-11zM191 939h11v4h-11zM257 939h18v4h-18zM279 939h3v4h-3zM260 943h15v3h-15zM195 946h3v4h-3zM260 946h22v4h-22zM191 950h4v4h-4zM260 950h19v4h-19zM191 954h11v3h-11zM260 954h4v3h-4zM268 954h3v3h-3zM187 957h8v4h-8zM260 957h4v4h-4zM268 957h11v4h-11zM195 961h3v4h-3zM253 961h22v4h-22zM257 965h3v3h-3zM195 968h3v4h-3zM206 968h3v4h-3zM242 968h18v4h-18zM195 972h14v4h-14zM242 972h15v4h-15zM184 976h3v3h-3zM195 976h14v3h-14zM242 976h18v3h-18zM195 979h14v4h-14zM239 979h18v4h-18zM195 983h14v4h-14zM246 983h14v4h-14zM195 987h18v3h-18zM242 987h18v3h-18zM187 990h4v4h-4zM195 990h14v4h-14zM242 990h18v4h-18zM198 994h11v4h-11zM213 994h7v4h-7zM242 994h18v4h-18zM187 998h8v3h-8zM206 998h7v3h-7zM242 998h18v3h-18zM187 1001h8v4h-8zM206 1001h14v4h-14zM242 1001h18v4h-18zM191 1005h4v4h-4zM209 1005h8v4h-8zM231 1005h4v4h-4zM246 1005h18v4h-18zM191 1009h7v3h-7zM209 1009h11v3h-11zM228 1009h47v3h-47zM279 1009h3v3h-3zM195 1012h3v4h-3zM209 1012h8v4h-8zM228 1012h40v4h-40zM271 1012h11v4h-11zM209 1016h8v4h-8zM228 1016h25v4h-25zM257 1016h18v4h-18zM206 1020h11v3h-11zM231 1020h26v3h-26zM260 1020h19v3h-19z" fill="url(#p1)"/>
<path d="M242 785h4v3h-4zM235 788h11v4h-11zM239 792h11v4h-11zM217 796h7v3h-7zM239 796h11v3h-11zM253 796h4v3h-4zM260 796h4v3h-4zM213 799h11v4h-11zM235 799h18v4h-18zM260 799h11v4h-11zM209 803h4v4h-4zM253 803h4v4h-4zM268 803h7v4h-7zM271 807h4v3h-4zM271 814h4v4h-4zM271 818h8v3h-8zM271 821h4v4h-4zM271 825h4v4h-4zM268 829h7v3h-7zM202 880h4v4h-4zM195 884h3v3h-3zM202 884h4v3h-4zM198 887h8v4h-8zM268 891h3v4h-3zM195 895h3v3h-3zM264 895h7v3h-7zM198 898h8v4h-8zM198 902h8v4h-8zM268 902h3v4h-3zM195 906h11v4h-11zM195 910h11v3h-11zM195 913h7v4h-7zM195 917h7v4h-7zM195 921h7v3h-7zM195 924h11v4h-11zM253 924h4v4h-4zM195 928h3v4h-3zM202 928h7v4h-7zM253 928h18v4h-18zM202 932h7v3h-7zM253 932h18v3h-18zM202 935h7v4h-7zM257 935h14v4h-14zM202 939h7v4h-7zM198 943h11v3h-11zM198 946h11v4h-11zM195 950h14v4h-14zM202 954h7v3h-7zM195 957h14v4h-14zM253 957h7v4h-7zM198 961h11v4h-11zM224 961h18v4h-18zM198 965h33v3h-33zM246 965h11v3h-11zM198 968h8v4h-8zM209 968h26v4h-26zM209 972h19v4h-19zM231 972h4v4h-4zM239 972h3v4h-3zM209 976h33v3h-33zM209 979h30v4h-30zM209 983h30v4h-30zM242 983h4v4h-4zM213 987h11v3h-11zM239 987h3v3h-3zM209 990h15v4h-15zM239 990h3v4h-3zM195 994h3v4h-3zM209 994h4v4h-4zM220 994h22v4h-22zM195 998h11v3h-11zM213 998h29v3h-29zM195 1001h11v4h-11zM220 1001h22v4h-22zM195 1005h14v4h-14zM217 1005h14v4h-14zM235 1005h11v4h-11zM198 1009h11v3h-11zM220 1009h8v3h-8zM198 1012h11v4h-11zM217 1012h11v4h-11zM195 1016h14v4h-14zM217 1016h11v4h-11zM195 1020h11v3h-11zM217 1020h14v3h-14zM264 1023h18v4h-18zM264 1027h18v4h-18z" fill="url(#p2)"/>
<path d="M224 796h15v3h-15zM257 796h3v3h-3zM224 799h11v4h-11zM253 799h7v4h-7zM213 803h15v4h-15zM257 803h11v4h-11zM209 807h19v3h-19zM253 807h18v3h-18zM209 810h4v4h-4zM264 810h11v4h-11zM195 814h3v4h-3zM209 814h4v4h-4zM264 814h7v4h-7zM198 818h11v3h-11zM264 818h7v3h-7zM198 821h11v4h-11zM268 821h3v4h-3zM198 825h11v4h-11zM268 825h3v4h-3zM198 829h11v3h-11zM198 832h11v4h-11zM268 832h3v4h-3zM198 836h11v4h-11zM268 836h7v4h-7zM195 840h14v3h-14zM268 840h7v3h-7zM198 843h11v4h-11zM271 843h4v4h-4zM198 847h11v4h-11zM268 847h7v4h-7zM198 851h11v3h-11zM268 851h7v3h-7zM198 854h11v4h-11zM268 854h7v4h-7zM198 858h11v4h-11zM268 858h7v4h-7zM198 862h11v3h-11zM268 862h7v3h-7zM202 865h7v4h-7zM268 865h7v4h-7zM198 869h11v4h-11zM264 869h11v4h-11zM202 873h7v3h-7zM264 873h11v3h-11zM198 876h8v4h-8zM260 876h15v4h-15zM260 880h15v4h-15zM260 884h15v3h-15zM260 887h15v4h-15zM198 891h15v4h-15zM260 891h8v4h-8zM198 895h15v3h-15zM260 895h4v3h-4zM206 898h3v4h-3zM224 898h4v4h-4zM253 898h18v4h-18zM206 902h3v4h-3zM224 902h4v4h-4zM253 902h15v4h-15zM206 906h3v4h-3zM253 906h15v4h-15zM206 910h3v3h-3zM253 910h15v3h-15zM202 913h11v4h-11zM253 913h15v4h-15zM202 917h18v4h-18zM253 917h7v4h-7zM202 921h18v3h-18zM253 921h11v3h-11zM206 924h14v4h-14zM257 924h7v4h-7zM198 928h4v4h-4zM209 928h22v4h-22zM246 928h7v4h-7zM195 932h7v3h-7zM209 932h22v3h-22zM246 932h7v3h-7zM209 935h22v4h-22zM246 935h11v4h-11zM209 939h22v4h-22zM246 939h7v4h-7zM209 943h44v3h-44zM209 946h44v4h-44zM209 950h15v4h-15zM231 950h4v4h-4zM246 950h14v4h-14zM209 954h15v3h-15zM231 954h4v3h-4zM246 954h14v3h-14zM209 957h44v4h-44zM209 961h15v4h-15zM242 961h11v4h-11zM231 965h15v3h-15zM235 968h7v4h-7zM228 972h3v4h-3zM235 972h4v4h-4zM239 983h3v4h-3zM224 987h15v3h-15zM224 990h15v4h-15z" fill="url(#p3)"/>
<path d="M228 803h25v4h-25zM228 807h25v3h-25zM213 810h18v4h-18zM242 810h4v4h-4zM253 810h11v4h-11zM213 814h18v4h-18zM253 814h11v4h-11zM209 818h19v3h-19zM209 821h19v4h-19zM260 821h8v4h-8zM209 825h11v4h-11zM260 825h8v4h-8zM209 829h11v3h-11zM260 829h8v3h-8zM209 832h8v4h-8zM260 832h8v4h-8zM209 836h8v4h-8zM260 836h8v4h-8zM209 840h8v3h-8zM260 840h8v3h-8zM209 843h11v4h-11zM260 843h11v4h-11zM209 847h8v4h-8zM260 847h8v4h-8zM209 851h8v3h-8zM257 851h11v3h-11zM209 854h8v4h-8zM260 854h8v4h-8zM260 858h8v4h-8zM260 862h8v3h-8zM217 865h7v4h-7zM260 865h8v4h-8zM213 869h11v4h-11zM260 869h4v4h-4zM217 873h7v3h-7zM206 876h7v4h-7zM253 876h7v4h-7zM206 880h7v4h-7zM253 880h7v4h-7zM206 884h7v3h-7zM253 884h7v3h-7zM206 887h7v4h-7zM224 887h4v4h-4zM253 887h7v4h-7zM213 891h11v4h-11zM253 891h7v4h-7zM213 895h11v3h-11zM253 895h7v3h-7zM209 898h15v4h-15zM246 898h7v4h-7zM209 902h15v4h-15zM246 902h7v4h-7zM209 906h19v4h-19zM246 906h7v4h-7zM209 910h19v3h-19zM246 910h7v3h-7zM213 913h15v4h-15zM250 913h3v4h-3zM220 917h8v4h-8zM246 917h7v4h-7zM220 921h8v3h-8zM246 921h7v3h-7zM220 924h8v4h-8zM246 924h7v4h-7zM231 928h15v4h-15zM231 932h15v3h-15zM231 935h15v4h-15zM231 939h15v4h-15zM224 950h7v4h-7zM235 950h11v4h-11zM224 954h7v3h-7zM235 954h11v3h-11zM209 1023h4v4h-4zM224 1023h4v4h-4zM209 1027h4v4h-4zM224 1027h4v4h-4z" fill="#3c3c3c"/>
<path d="M231 818h22v3h-22zM231 821h19v4h-19zM231 825h22v4h-22zM231 829h19v3h-19zM224 832h29v4h-29zM224 836h29v4h-29zM224 840h29v3h-29zM224 843h29v4h-29zM224 847h29v4h-29zM224 851h29v3h-29zM224 854h29v4h-29zM224 858h29v4h-29zM224 862h29v3h-29zM224 865h29v4h-29zM231 869h11v4h-11zM231 873h15v3h-15zM239 876h7v4h-7zM239 880h11v4h-11zM239 884h7v3h-7z" fill="url(#p6)"/>
<path d="M231 810h11v4h-11zM246 810h7v4h-7zM231 814h22v4h-22zM228 818h3v3h-3zM253 818h11v3h-11zM228 821h3v4h-3zM250 821h10v4h-10zM220 825h11v4h-11zM253 825h7v4h-7zM220 829h11v3h-11zM250 829h10v3h-10zM217 832h7v4h-7zM253 832h7v4h-7zM217 836h7v4h-7zM253 836h7v4h-7zM217 840h7v3h-7zM253 840h7v3h-7zM220 843h4v4h-4zM253 843h7v4h-7zM217 847h7v4h-7zM253 847h7v4h-7zM217 851h7v3h-7zM253 851h4v3h-4zM217 854h7v4h-7zM253 854h7v4h-7zM209 858h15v4h-15zM253 858h7v4h-7zM209 862h15v3h-15zM253 862h7v3h-7zM209 865h8v4h-8zM253 865h7v4h-7zM209 869h4v4h-4zM224 869h7v4h-7zM242 869h18v4h-18zM209 873h8v3h-8zM224 873h7v3h-7zM246 873h18v3h-18zM213 876h26v4h-26zM246 876h7v4h-7zM213 880h26v4h-26zM250 880h3v4h-3zM213 884h26v3h-26zM246 884h7v3h-7zM213 887h11v4h-11zM228 887h25v4h-25zM224 891h29v4h-29zM224 895h29v3h-29zM228 898h18v4h-18zM228 902h18v4h-18zM228 906h18v4h-18zM228 910h18v3h-18zM228 913h22v4h-22zM228 917h18v4h-18zM228 921h18v3h-18zM228 924h18v4h-18zM195 1023h14v4h-14zM213 1023h11v4h-11zM228 1023h25v4h-25zM195 1027h14v4h-14zM213 1027h11v4h-11zM228 1027h25v4h-25z" fill="url(#p7)"/>
<path d="M253 1023h11v4h-11zM253 1027h11v4h-11z" fill="#141414"/></g>
<polygon points="46.6,3.5 514.4,4.4 514.5,473.5 46.6,472.8" fill="none" stroke="#0a0a0a" stroke-width="1.3"/>
<line x1="46.6" y1="472.8" x2="46.6" y2="481.3" stroke="#0a0a0a" stroke-width="1.05"/>
<line x1="38.3" y1="472.8" x2="46.6" y2="472.8" stroke="#0a0a0a" stroke-width="1.05"/>
<line x1="81.81" y1="472.85" x2="81.81" y2="481.35" stroke="#0a0a0a" stroke-width="1.05"/>
<line x1="38.3" y1="437.48" x2="46.6" y2="437.48" stroke="#0a0a0a" stroke-width="1.05"/>
<line x1="102.41" y1="472.88" x2="102.41" y2="481.38" stroke="#0a0a0a" stroke-width="1.05"/>
<line x1="38.3" y1="416.82" x2="46.6" y2="416.82" stroke="#0a0a0a" stroke-width="1.05"/>
<line x1="117.03" y1="472.91" x2="117.03" y2="481.41" stroke="#0a0a0a" stroke-width="1.05"/>
<line x1="38.3" y1="402.16" x2="46.6" y2="402.16" stroke="#0a0a0a" stroke-width="1.05"/>
<line x1="128.36" y1="472.92" x2="128.36" y2="481.42" stroke="#0a0a0a" stroke-width="1.05"/>
<line x1="38.3" y1="390.79" x2="46.6" y2="390.79" stroke="#0a0a0a" stroke-width="1.05"/>
<line x1="137.62" y1="472.94" x2="137.62" y2="481.44" stroke="#0a0a0a" stroke-width="1.05"/>
<line x1="38.3" y1="381.5" x2="46.6" y2="381.5" stroke="#0a0a0a" stroke-width="1.05"/>
<line x1="145.46" y1="472.95" x2="145.46" y2="481.45" stroke="#0a0a0a" stroke-width="1.05"/>
<line x1="38.3" y1="373.65" x2="46.6" y2="373.65" stroke="#0a0a0a" stroke-width="1.05"/>
<line x1="152.24" y1="472.96" x2="152.24" y2="481.46" stroke="#0a0a0a" stroke-width="1.05"/>
<line x1="38.3" y1="366.84" x2="46.6" y2="366.84" stroke="#0a0a0a" stroke-width="1.05"/>
<line x1="158.22" y1="472.97" x2="158.22" y2="481.47" stroke="#0a0a0a" stroke-width="1.05"/>
<line x1="38.3" y1="360.84" x2="46.6" y2="360.84" stroke="#0a0a0a" stroke-width="1.05"/>
<line x1="163.57" y1="472.98" x2="163.57" y2="481.48" stroke="#0a0a0a" stroke-width="1.05"/>
<line x1="38.3" y1="355.48" x2="46.6" y2="355.48" stroke="#0a0a0a" stroke-width="1.05"/>
<line x1="198.79" y1="473.03" x2="198.79" y2="481.53" stroke="#0a0a0a" stroke-width="1.05"/>
<line x1="38.3" y1="320.16" x2="46.6" y2="320.16" stroke="#0a0a0a" stroke-width="1.05"/>
<line x1="219.39" y1="473.06" x2="219.39" y2="481.56" stroke="#0a0a0a" stroke-width="1.05"/>
<line x1="38.3" y1="299.5" x2="46.6" y2="299.5" stroke="#0a0a0a" stroke-width="1.05"/>
<line x1="234" y1="473.08" x2="234" y2="481.58" stroke="#0a0a0a" stroke-width="1.05"/>
<line x1="38.3" y1="284.84" x2="46.6" y2="284.84" stroke="#0a0a0a" stroke-width="1.05"/>
<line x1="245.34" y1="473.1" x2="245.34" y2="481.6" stroke="#0a0a0a" stroke-width="1.05"/>
<line x1="38.3" y1="273.47" x2="46.6" y2="273.47" stroke="#0a0a0a" stroke-width="1.05"/>
<line x1="254.6" y1="473.11" x2="254.6" y2="481.61" stroke="#0a0a0a" stroke-width="1.05"/>
<line x1="38.3" y1="264.18" x2="46.6" y2="264.18" stroke="#0a0a0a" stroke-width="1.05"/>
<line x1="262.43" y1="473.12" x2="262.43" y2="481.62" stroke="#0a0a0a" stroke-width="1.05"/>
<line x1="38.3" y1="256.32" x2="46.6" y2="256.32" stroke="#0a0a0a" stroke-width="1.05"/>
<line x1="269.21" y1="473.13" x2="269.21" y2="481.63" stroke="#0a0a0a" stroke-width="1.05"/>
<line x1="38.3" y1="249.52" x2="46.6" y2="249.52" stroke="#0a0a0a" stroke-width="1.05"/>
<line x1="275.2" y1="473.14" x2="275.2" y2="481.64" stroke="#0a0a0a" stroke-width="1.05"/>
<line x1="38.3" y1="243.52" x2="46.6" y2="243.52" stroke="#0a0a0a" stroke-width="1.05"/>
<line x1="280.55" y1="473.15" x2="280.55" y2="481.65" stroke="#0a0a0a" stroke-width="1.05"/>
<line x1="38.3" y1="238.15" x2="46.6" y2="238.15" stroke="#0a0a0a" stroke-width="1.05"/>
<line x1="315.76" y1="473.2" x2="315.76" y2="481.7" stroke="#0a0a0a" stroke-width="1.05"/>
<line x1="38.3" y1="202.83" x2="46.6" y2="202.83" stroke="#0a0a0a" stroke-width="1.05"/>
<line x1="336.36" y1="473.23" x2="336.36" y2="481.73" stroke="#0a0a0a" stroke-width="1.05"/>
<line x1="38.3" y1="182.17" x2="46.6" y2="182.17" stroke="#0a0a0a" stroke-width="1.05"/>
<line x1="350.98" y1="473.26" x2="350.98" y2="481.76" stroke="#0a0a0a" stroke-width="1.05"/>
<line x1="38.3" y1="167.51" x2="46.6" y2="167.51" stroke="#0a0a0a" stroke-width="1.05"/>
<line x1="362.31" y1="473.27" x2="362.31" y2="481.77" stroke="#0a0a0a" stroke-width="1.05"/>
<line x1="38.3" y1="156.14" x2="46.6" y2="156.14" stroke="#0a0a0a" stroke-width="1.05"/>
<line x1="371.57" y1="473.29" x2="371.57" y2="481.79" stroke="#0a0a0a" stroke-width="1.05"/>
<line x1="38.3" y1="146.85" x2="46.6" y2="146.85" stroke="#0a0a0a" stroke-width="1.05"/>
<line x1="379.41" y1="473.3" x2="379.41" y2="481.8" stroke="#0a0a0a" stroke-width="1.05"/>
<line x1="38.3" y1="139" x2="46.6" y2="139" stroke="#0a0a0a" stroke-width="1.05"/>
<line x1="386.19" y1="473.31" x2="386.19" y2="481.81" stroke="#0a0a0a" stroke-width="1.05"/>
<line x1="38.3" y1="132.19" x2="46.6" y2="132.19" stroke="#0a0a0a" stroke-width="1.05"/>
<line x1="392.17" y1="473.32" x2="392.17" y2="481.82" stroke="#0a0a0a" stroke-width="1.05"/>
<line x1="38.3" y1="126.19" x2="46.6" y2="126.19" stroke="#0a0a0a" stroke-width="1.05"/>
<line x1="397.52" y1="473.32" x2="397.52" y2="481.82" stroke="#0a0a0a" stroke-width="1.05"/>
<line x1="38.3" y1="120.83" x2="46.6" y2="120.83" stroke="#0a0a0a" stroke-width="1.05"/>
<line x1="432.74" y1="473.38" x2="432.74" y2="481.88" stroke="#0a0a0a" stroke-width="1.05"/>
<line x1="38.3" y1="85.51" x2="46.6" y2="85.51" stroke="#0a0a0a" stroke-width="1.05"/>
<line x1="453.34" y1="473.41" x2="453.34" y2="481.91" stroke="#0a0a0a" stroke-width="1.05"/>
<line x1="38.3" y1="64.85" x2="46.6" y2="64.85" stroke="#0a0a0a" stroke-width="1.05"/>
<line x1="467.95" y1="473.43" x2="467.95" y2="481.93" stroke="#0a0a0a" stroke-width="1.05"/>
<line x1="38.3" y1="50.19" x2="46.6" y2="50.19" stroke="#0a0a0a" stroke-width="1.05"/>
<line x1="479.29" y1="473.45" x2="479.29" y2="481.95" stroke="#0a0a0a" stroke-width="1.05"/>
<line x1="38.3" y1="38.82" x2="46.6" y2="38.82" stroke="#0a0a0a" stroke-width="1.05"/>
<line x1="488.55" y1="473.46" x2="488.55" y2="481.96" stroke="#0a0a0a" stroke-width="1.05"/>
<line x1="38.3" y1="29.53" x2="46.6" y2="29.53" stroke="#0a0a0a" stroke-width="1.05"/>
<line x1="496.38" y1="473.47" x2="496.38" y2="481.97" stroke="#0a0a0a" stroke-width="1.05"/>
<line x1="38.3" y1="21.67" x2="46.6" y2="21.67" stroke="#0a0a0a" stroke-width="1.05"/>
<line x1="503.16" y1="473.48" x2="503.16" y2="481.98" stroke="#0a0a0a" stroke-width="1.05"/>
<line x1="38.3" y1="14.87" x2="46.6" y2="14.87" stroke="#0a0a0a" stroke-width="1.05"/>
<line x1="509.15" y1="473.49" x2="509.15" y2="481.99" stroke="#0a0a0a" stroke-width="1.05"/>
<line x1="38.3" y1="8.87" x2="46.6" y2="8.87" stroke="#0a0a0a" stroke-width="1.05"/>
<line x1="514.5" y1="473.5" x2="514.5" y2="482" stroke="#0a0a0a" stroke-width="1.05"/>
<line x1="38.3" y1="3.5" x2="46.6" y2="3.5" stroke="#0a0a0a" stroke-width="1.05"/>
<polygon points="48.5,560.6 515.7,560.1 516.6,1030.6 48.8,1031" fill="none" stroke="#0a0a0a" stroke-width="1.3"/>
<line x1="48.8" y1="1031" x2="48.8" y2="1039.5" stroke="#0a0a0a" stroke-width="1.05"/>
<line x1="40.5" y1="1031" x2="48.8" y2="1031" stroke="#0a0a0a" stroke-width="1.05"/>
<line x1="84.01" y1="1030.97" x2="84.01" y2="1039.47" stroke="#0a0a0a" stroke-width="1.05"/>
<line x1="40.48" y1="995.6" x2="48.78" y2="995.6" stroke="#0a0a0a" stroke-width="1.05"/>
<line x1="104.6" y1="1030.95" x2="104.6" y2="1039.45" stroke="#0a0a0a" stroke-width="1.05"/>
<line x1="40.46" y1="974.89" x2="48.76" y2="974.89" stroke="#0a0a0a" stroke-width="1.05"/>
<line x1="119.21" y1="1030.94" x2="119.21" y2="1039.44" stroke="#0a0a0a" stroke-width="1.05"/>
<line x1="40.45" y1="960.2" x2="48.75" y2="960.2" stroke="#0a0a0a" stroke-width="1.05"/>
<line x1="130.54" y1="1030.93" x2="130.54" y2="1039.43" stroke="#0a0a0a" stroke-width="1.05"/>
<line x1="40.45" y1="948.8" x2="48.75" y2="948.8" stroke="#0a0a0a" stroke-width="1.05"/>
<line x1="139.8" y1="1030.92" x2="139.8" y2="1039.42" stroke="#0a0a0a" stroke-width="1.05"/>
<line x1="40.44" y1="939.49" x2="48.74" y2="939.49" stroke="#0a0a0a" stroke-width="1.05"/>
<line x1="147.63" y1="1030.92" x2="147.63" y2="1039.42" stroke="#0a0a0a" stroke-width="1.05"/>
<line x1="40.44" y1="931.62" x2="48.74" y2="931.62" stroke="#0a0a0a" stroke-width="1.05"/>
<line x1="154.42" y1="1030.91" x2="154.42" y2="1039.41" stroke="#0a0a0a" stroke-width="1.05"/>
<line x1="40.43" y1="924.8" x2="48.73" y2="924.8" stroke="#0a0a0a" stroke-width="1.05"/>
<line x1="160.4" y1="1030.9" x2="160.4" y2="1039.4" stroke="#0a0a0a" stroke-width="1.05"/>
<line x1="40.43" y1="918.78" x2="48.73" y2="918.78" stroke="#0a0a0a" stroke-width="1.05"/>
<line x1="165.75" y1="1030.9" x2="165.75" y2="1039.4" stroke="#0a0a0a" stroke-width="1.05"/>
<line x1="40.42" y1="913.4" x2="48.72" y2="913.4" stroke="#0a0a0a" stroke-width="1.05"/>
<line x1="200.96" y1="1030.87" x2="200.96" y2="1039.37" stroke="#0a0a0a" stroke-width="1.05"/>
<line x1="40.4" y1="878" x2="48.7" y2="878" stroke="#0a0a0a" stroke-width="1.05"/>
<line x1="221.55" y1="1030.85" x2="221.55" y2="1039.35" stroke="#0a0a0a" stroke-width="1.05"/>
<line x1="40.39" y1="857.29" x2="48.69" y2="857.29" stroke="#0a0a0a" stroke-width="1.05"/>
<line x1="236.16" y1="1030.84" x2="236.16" y2="1039.34" stroke="#0a0a0a" stroke-width="1.05"/>
<line x1="40.38" y1="842.6" x2="48.68" y2="842.6" stroke="#0a0a0a" stroke-width="1.05"/>
<line x1="247.49" y1="1030.83" x2="247.49" y2="1039.33" stroke="#0a0a0a" stroke-width="1.05"/>
<line x1="40.37" y1="831.2" x2="48.67" y2="831.2" stroke="#0a0a0a" stroke-width="1.05"/>
<line x1="256.75" y1="1030.82" x2="256.75" y2="1039.32" stroke="#0a0a0a" stroke-width="1.05"/>
<line x1="40.37" y1="821.89" x2="48.67" y2="821.89" stroke="#0a0a0a" stroke-width="1.05"/>
<line x1="264.58" y1="1030.82" x2="264.58" y2="1039.32" stroke="#0a0a0a" stroke-width="1.05"/>
<line x1="40.36" y1="814.02" x2="48.66" y2="814.02" stroke="#0a0a0a" stroke-width="1.05"/>
<line x1="271.37" y1="1030.81" x2="271.37" y2="1039.31" stroke="#0a0a0a" stroke-width="1.05"/>
<line x1="40.36" y1="807.2" x2="48.66" y2="807.2" stroke="#0a0a0a" stroke-width="1.05"/>
<line x1="277.35" y1="1030.8" x2="277.35" y2="1039.3" stroke="#0a0a0a" stroke-width="1.05"/>
<line x1="40.35" y1="801.18" x2="48.65" y2="801.18" stroke="#0a0a0a" stroke-width="1.05"/>
<line x1="282.7" y1="1030.8" x2="282.7" y2="1039.3" stroke="#0a0a0a" stroke-width="1.05"/>
<line x1="40.35" y1="795.8" x2="48.65" y2="795.8" stroke="#0a0a0a" stroke-width="1.05"/>
<line x1="317.91" y1="1030.77" x2="317.91" y2="1039.27" stroke="#0a0a0a" stroke-width="1.05"/>
<line x1="40.33" y1="760.4" x2="48.63" y2="760.4" stroke="#0a0a0a" stroke-width="1.05"/>
<line x1="338.5" y1="1030.75" x2="338.5" y2="1039.25" stroke="#0a0a0a" stroke-width="1.05"/>
<line x1="40.31" y1="739.69" x2="48.61" y2="739.69" stroke="#0a0a0a" stroke-width="1.05"/>
<line x1="353.11" y1="1030.74" x2="353.11" y2="1039.24" stroke="#0a0a0a" stroke-width="1.05"/>
<line x1="40.3" y1="725" x2="48.6" y2="725" stroke="#0a0a0a" stroke-width="1.05"/>
<line x1="364.44" y1="1030.73" x2="364.44" y2="1039.23" stroke="#0a0a0a" stroke-width="1.05"/>
<line x1="40.3" y1="713.6" x2="48.6" y2="713.6" stroke="#0a0a0a" stroke-width="1.05"/>
<line x1="373.7" y1="1030.72" x2="373.7" y2="1039.22" stroke="#0a0a0a" stroke-width="1.05"/>
<line x1="40.29" y1="704.29" x2="48.59" y2="704.29" stroke="#0a0a0a" stroke-width="1.05"/>
<line x1="381.53" y1="1030.72" x2="381.53" y2="1039.22" stroke="#0a0a0a" stroke-width="1.05"/>
<line x1="40.29" y1="696.42" x2="48.59" y2="696.42" stroke="#0a0a0a" stroke-width="1.05"/>
<line x1="388.32" y1="1030.71" x2="388.32" y2="1039.21" stroke="#0a0a0a" stroke-width="1.05"/>
<line x1="40.28" y1="689.6" x2="48.58" y2="689.6" stroke="#0a0a0a" stroke-width="1.05"/>
<line x1="394.3" y1="1030.7" x2="394.3" y2="1039.2" stroke="#0a0a0a" stroke-width="1.05"/>
<line x1="40.28" y1="683.58" x2="48.58" y2="683.58" stroke="#0a0a0a" stroke-width="1.05"/>
<line x1="399.65" y1="1030.7" x2="399.65" y2="1039.2" stroke="#0a0a0a" stroke-width="1.05"/>
<line x1="40.28" y1="678.2" x2="48.58" y2="678.2" stroke="#0a0a0a" stroke-width="1.05"/>
<line x1="434.86" y1="1030.67" x2="434.86" y2="1039.17" stroke="#0a0a0a" stroke-width="1.05"/>
<line x1="40.25" y1="642.8" x2="48.55" y2="642.8" stroke="#0a0a0a" stroke-width="1.05"/>
<line x1="455.45" y1="1030.65" x2="455.45" y2="1039.15" stroke="#0a0a0a" stroke-width="1.05"/>
<line x1="40.24" y1="622.09" x2="48.54" y2="622.09" stroke="#0a0a0a" stroke-width="1.05"/>
<line x1="470.06" y1="1030.64" x2="470.06" y2="1039.14" stroke="#0a0a0a" stroke-width="1.05"/>
<line x1="40.23" y1="607.4" x2="48.53" y2="607.4" stroke="#0a0a0a" stroke-width="1.05"/>
<line x1="481.39" y1="1030.63" x2="481.39" y2="1039.13" stroke="#0a0a0a" stroke-width="1.05"/>
<line x1="40.22" y1="596" x2="48.52" y2="596" stroke="#0a0a0a" stroke-width="1.05"/>
<line x1="490.65" y1="1030.62" x2="490.65" y2="1039.12" stroke="#0a0a0a" stroke-width="1.05"/>
<line x1="40.22" y1="586.69" x2="48.52" y2="586.69" stroke="#0a0a0a" stroke-width="1.05"/>
<line x1="498.48" y1="1030.62" x2="498.48" y2="1039.12" stroke="#0a0a0a" stroke-width="1.05"/>
<line x1="40.21" y1="578.82" x2="48.51" y2="578.82" stroke="#0a0a0a" stroke-width="1.05"/>
<line x1="505.27" y1="1030.61" x2="505.27" y2="1039.11" stroke="#0a0a0a" stroke-width="1.05"/>
<line x1="40.21" y1="572" x2="48.51" y2="572" stroke="#0a0a0a" stroke-width="1.05"/>
<line x1="511.25" y1="1030.6" x2="511.25" y2="1039.1" stroke="#0a0a0a" stroke-width="1.05"/>
<line x1="40.2" y1="565.98" x2="48.5" y2="565.98" stroke="#0a0a0a" stroke-width="1.05"/>
<line x1="516.6" y1="1030.6" x2="516.6" y2="1039.1" stroke="#0a0a0a" stroke-width="1.05"/>
<line x1="40.2" y1="560.6" x2="48.5" y2="560.6" stroke="#0a0a0a" stroke-width="1.05"/>
<line x1="164.2" y1="3.7" x2="164.2" y2="473" stroke="#0a0a0a" stroke-width="1.4"/>
<line x1="46.6" y1="319.3" x2="514.4" y2="319.9" stroke="#0a0a0a" stroke-width="1.4"/>
<polygon points="193,312.5 280.5,312.7 280.5,473 193,472.8" fill="none" stroke="#0a0a0a" stroke-width="1.3"/>
<line x1="180.2" y1="560.5" x2="180.4" y2="1030.9" stroke="#0a0a0a" stroke-width="1.4"/>
<line x1="48.6" y1="891" x2="516.2" y2="890.3" stroke="#0a0a0a" stroke-width="1.4"/>
<rect x="186.9" y="772.9" width="102.3" height="103.4" fill="none" stroke="#0a0a0a" stroke-width="1.3"/>
<polygon points="186.9,898.5 282.5,898.4 282.7,1030.8 187,1030.9" fill="none" stroke="#0a0a0a" stroke-width="1.3"/>
<text transform="translate(470 51.9) scale(1 1)" font-family="'Liberation Sans', monospace" font-size="29" font-weight="bold" text-anchor="start" fill="#111">A</text>
<text transform="translate(470 599.2) scale(1 1)" font-family="'Liberation Sans', monospace" font-size="29" font-weight="bold" text-anchor="start" fill="#111">B</text>
<text transform="translate(50.7 500.8) scale(1.1 1)" font-family="'Liberation Mono', monospace" font-size="15.2" font-weight="normal" text-anchor="middle" fill="#111" stroke="#111" stroke-width="0.45" letter-spacing="1.3">.1</text>
<text transform="translate(171.2 501) scale(1.1 1)" font-family="'Liberation Mono', monospace" font-size="15.2" font-weight="normal" text-anchor="middle" fill="#111" stroke="#111" stroke-width="0.45" letter-spacing="1.3">1</text>
<text transform="translate(280.2 500.5) scale(1.1 1)" font-family="'Liberation Mono', monospace" font-size="15.2" font-weight="normal" text-anchor="middle" fill="#111" stroke="#111" stroke-width="0.45" letter-spacing="1.3">10</text>
<text transform="translate(391.7 500.5) scale(1.1 1)" font-family="'Liberation Mono', monospace" font-size="15.2" font-weight="normal" text-anchor="middle" fill="#111" stroke="#111" stroke-width="0.45" letter-spacing="1.3">100</text>
<text transform="translate(490.9 500.4) scale(1.1 1)" font-family="'Liberation Mono', monospace" font-size="15.2" font-weight="normal" text-anchor="middle" fill="#111" stroke="#111" stroke-width="0.45" letter-spacing="1.3">1000</text>
<text transform="translate(280 515.8) scale(1.29 1)" font-family="'Liberation Mono', monospace" font-size="15.2" font-weight="normal" text-anchor="middle" fill="#111" stroke="#111" stroke-width="0.45">CD34-FITC</text>
<rect x="148.87" y="16" width="13.76" height="13.5" fill="#fff"/>
<text transform="translate(155.75 27.5) scale(1.29 1)" font-family="'Liberation Mono', monospace" font-size="15.2" font-weight="normal" text-anchor="middle" fill="#111" stroke="#111" stroke-width="0.45">1</text>
<rect x="147.87" y="332.25" width="13.76" height="13.5" fill="#fff"/>
<text transform="translate(154.75 343.75) scale(1.29 1)" font-family="'Liberation Mono', monospace" font-size="15.2" font-weight="normal" text-anchor="middle" fill="#111" stroke="#111" stroke-width="0.45">3</text>
<rect x="496.87" y="332.5" width="13.76" height="13.5" fill="#fff"/>
<text transform="translate(503.75 344) scale(1.29 1)" font-family="'Liberation Mono', monospace" font-size="15.2" font-weight="normal" text-anchor="middle" fill="#111" stroke="#111" stroke-width="0.45">4</text>
<rect x="177.62" y="296.3" width="13.76" height="13.5" fill="#fff"/>
<text transform="translate(184.5 307.8) scale(1.29 1)" font-family="'Liberation Mono', monospace" font-size="15.2" font-weight="normal" text-anchor="middle" fill="#111" stroke="#111" stroke-width="0.45">I</text>
<rect x="169.12" y="449.5" width="13.76" height="13.5" fill="#fff"/>
<text transform="translate(176 461) scale(1.29 1)" font-family="'Liberation Mono', monospace" font-size="15.2" font-weight="normal" text-anchor="middle" fill="#111" stroke="#111" stroke-width="0.45">L</text>
<text transform="translate(33.5 26.55) rotate(-90) scale(1.045 1)" font-family="'Liberation Mono', monospace" font-size="16" font-weight="normal" text-anchor="middle" fill="#111" stroke="#111" stroke-width="0.45" letter-spacing="1.25">1000</text>
<text transform="translate(33.5 126.2) rotate(-90) scale(1.045 1)" font-family="'Liberation Mono', monospace" font-size="16" font-weight="normal" text-anchor="middle" fill="#111" stroke="#111" stroke-width="0.45" letter-spacing="1.25">100</text>
<text transform="translate(33.5 238.3) rotate(-90) scale(1.045 1)" font-family="'Liberation Mono', monospace" font-size="16" font-weight="normal" text-anchor="middle" fill="#111" stroke="#111" stroke-width="0.45" letter-spacing="1.25">10</text>
<text transform="translate(33.75 349.4) rotate(-90) scale(1.045 1)" font-family="'Liberation Mono', monospace" font-size="16" font-weight="normal" text-anchor="middle" fill="#111" stroke="#111" stroke-width="0.45" letter-spacing="1.25">1</text>
<text transform="translate(33.75 469.7) rotate(-90) scale(1.045 1)" font-family="'Liberation Mono', monospace" font-size="16" font-weight="normal" text-anchor="middle" fill="#111" stroke="#111" stroke-width="0.45" letter-spacing="1.25">.1</text>
<text transform="translate(13.9 238.7) rotate(-90) scale(1.29 1)" font-family="'Liberation Mono', monospace" font-size="15.2" font-weight="normal" text-anchor="middle" fill="#111" stroke="#111" stroke-width="0.45">CD33,38-PE</text>
<text transform="translate(52.3 1058.4) scale(1.1 1)" font-family="'Liberation Mono', monospace" font-size="15.2" font-weight="normal" text-anchor="middle" fill="#111" stroke="#111" stroke-width="0.45" letter-spacing="1.3">.1</text>
<text transform="translate(171.95 1058.2) scale(1.1 1)" font-family="'Liberation Mono', monospace" font-size="15.2" font-weight="normal" text-anchor="middle" fill="#111" stroke="#111" stroke-width="0.45" letter-spacing="1.3">1</text>
<text transform="translate(282.2 1058) scale(1.1 1)" font-family="'Liberation Mono', monospace" font-size="15.2" font-weight="normal" text-anchor="middle" fill="#111" stroke="#111" stroke-width="0.45" letter-spacing="1.3">10</text>
<text transform="translate(393.7 1057.8) scale(1.1 1)" font-family="'Liberation Mono', monospace" font-size="15.2" font-weight="normal" text-anchor="middle" fill="#111" stroke="#111" stroke-width="0.45" letter-spacing="1.3">100</text>
<text transform="translate(493.7 1057.6) scale(1.1 1)" font-family="'Liberation Mono', monospace" font-size="15.2" font-weight="normal" text-anchor="middle" fill="#111" stroke="#111" stroke-width="0.45" letter-spacing="1.3">1000</text>
<text transform="translate(282 1073.5) scale(1.29 1)" font-family="'Liberation Mono', monospace" font-size="15.2" font-weight="normal" text-anchor="middle" fill="#111" stroke="#111" stroke-width="0.45">CD34-FITC</text>
<rect x="164.37" y="572.5" width="13.76" height="13.5" fill="#fff"/>
<text transform="translate(171.25 584) scale(1.29 1)" font-family="'Liberation Mono', monospace" font-size="15.2" font-weight="normal" text-anchor="middle" fill="#111" stroke="#111" stroke-width="0.45">1</text>
<rect x="165.22" y="903.5" width="13.76" height="13.5" fill="#fff"/>
<text transform="translate(172.1 915) scale(1.29 1)" font-family="'Liberation Mono', monospace" font-size="15.2" font-weight="normal" text-anchor="middle" fill="#111" stroke="#111" stroke-width="0.45">3</text>
<rect x="500.12" y="902.6" width="13.76" height="13.5" fill="#fff"/>
<text transform="translate(507 914.1) scale(1.29 1)" font-family="'Liberation Mono', monospace" font-size="15.2" font-weight="normal" text-anchor="middle" fill="#111" stroke="#111" stroke-width="0.45">4</text>
<rect x="164.82" y="864.8" width="13.76" height="13.5" fill="#fff"/>
<text transform="translate(171.7 876.3) scale(1.29 1)" font-family="'Liberation Mono', monospace" font-size="15.2" font-weight="normal" text-anchor="middle" fill="#111" stroke="#111" stroke-width="0.45">N</text>
<rect x="193.42" y="867.5" width="13.76" height="13.5" fill="#fff"/>
<text transform="translate(200.3 879) scale(1.29 1)" font-family="'Liberation Mono', monospace" font-size="15.2" font-weight="normal" text-anchor="middle" fill="#111" stroke="#111" stroke-width="0.45">K</text>
<rect x="165.22" y="1007.2" width="13.76" height="13.5" fill="#fff"/>
<text transform="translate(172.1 1018.7) scale(1.29 1)" font-family="'Liberation Mono', monospace" font-size="15.2" font-weight="normal" text-anchor="middle" fill="#111" stroke="#111" stroke-width="0.45">M</text>
<text transform="translate(34.9 583.9) rotate(-90) scale(1.045 1)" font-family="'Liberation Mono', monospace" font-size="16" font-weight="normal" text-anchor="middle" fill="#111" stroke="#111" stroke-width="0.45" letter-spacing="1.25">1000</text>
<text transform="translate(34.9 683.3) rotate(-90) scale(1.045 1)" font-family="'Liberation Mono', monospace" font-size="16" font-weight="normal" text-anchor="middle" fill="#111" stroke="#111" stroke-width="0.45" letter-spacing="1.25">100</text>
<text transform="translate(34.9 794.8) rotate(-90) scale(1.045 1)" font-family="'Liberation Mono', monospace" font-size="16" font-weight="normal" text-anchor="middle" fill="#111" stroke="#111" stroke-width="0.45" letter-spacing="1.25">10</text>
<text transform="translate(35 907.2) rotate(-90) scale(1.045 1)" font-family="'Liberation Mono', monospace" font-size="16" font-weight="normal" text-anchor="middle" fill="#111" stroke="#111" stroke-width="0.45" letter-spacing="1.25">1</text>
<text transform="translate(35.2 1027.4) rotate(-90) scale(1.045 1)" font-family="'Liberation Mono', monospace" font-size="16" font-weight="normal" text-anchor="middle" fill="#111" stroke="#111" stroke-width="0.45" letter-spacing="1.25">.1</text>
<text transform="translate(15.6 796.2) rotate(-90) scale(1.29 1)" font-family="'Liberation Mono', monospace" font-size="15.2" font-weight="normal" text-anchor="middle" fill="#111" stroke="#111" stroke-width="0.45">DR-PERCP</text>
<text transform="translate(20 1073.7) scale(1.29 1)" font-family="'Liberation Mono', monospace" font-size="15.2" font-weight="normal" text-anchor="middle" fill="#111" stroke="#111" stroke-width="0.45">L</text>
</svg>
</body></html>
